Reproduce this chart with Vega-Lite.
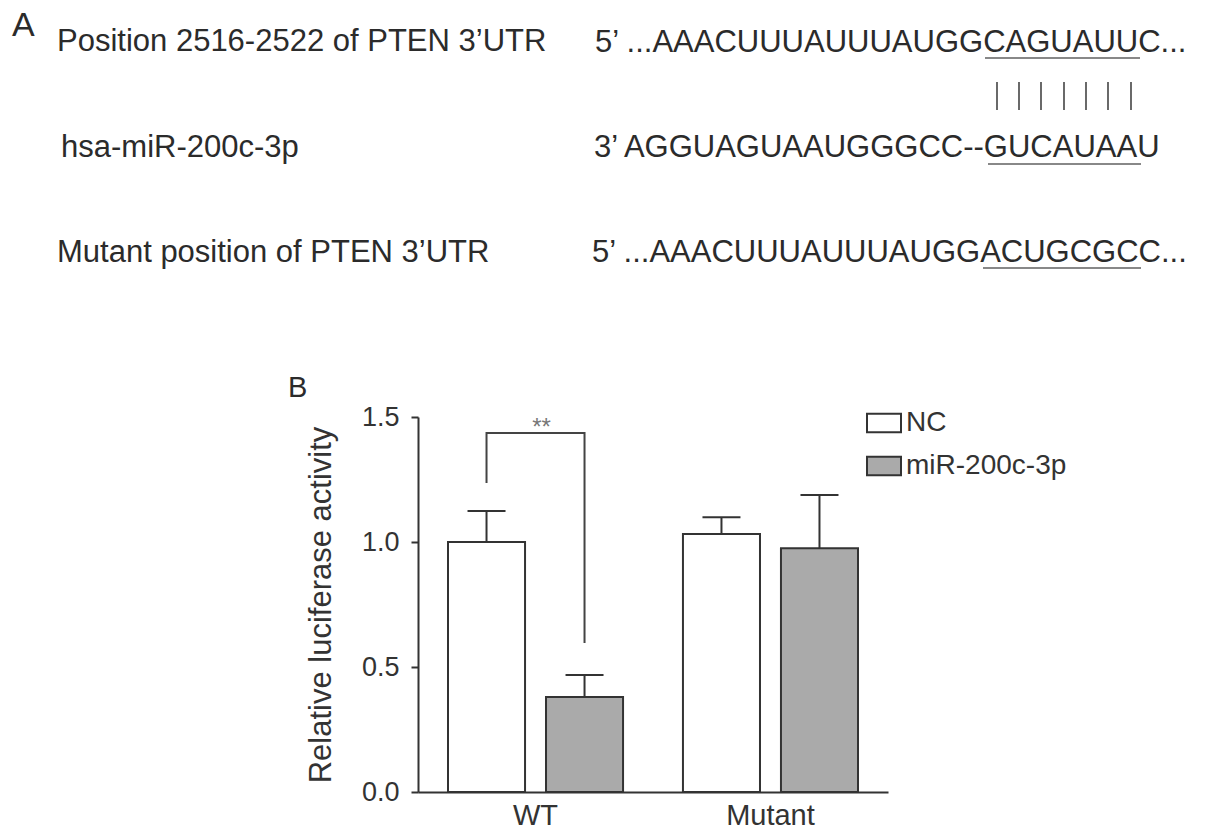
{
  "$schema": "https://vega.github.io/schema/vega-lite/v6.json",
  "autosize": {"type": "none"},
  "width": 470,
  "height": 375,
  "padding": {"left": 418, "top": 417, "right": 317, "bottom": 44},
  "background": "white",
  "config": {"view": {"stroke": null}, "font": "Liberation Sans"},
  "datasets": {
    "panelA": [
      {"t": "Position 2516-2522 of PTEN 3’UTR", "x": 57, "y": 51},
      {"t": "hsa-miR-200c-3p", "x": 61, "y": 157},
      {"t": "Mutant position of PTEN 3’UTR", "x": 57, "y": 262},
      {"t": "5’ ...AAACUUUAUUUAUGGCAGUAUUC...", "x": 595, "y": 52},
      {"t": "3’ AGGUAGUAAUGGGCC--GUCAUAAU", "x": 594, "y": 157},
      {"t": "5’ ...AAACUUUAUUUAUGGACUGCGCC...", "x": 592, "y": 262}
    ],
    "letters": [
      {"t": "A", "x": 12, "y": 36, "k": "A"},
      {"t": "B", "x": 288, "y": 397, "k": "B"}
    ],
    "underlines": [
      {"x": 985, "x2": 1140, "y": 58},
      {"x": 988, "x2": 1141, "y": 164},
      {"x": 983, "x2": 1141, "y": 268}
    ],
    "pairs": [
      {"x": 997, "y": 82, "y2": 110},
      {"x": 1019, "y": 82, "y2": 110},
      {"x": 1041, "y": 82, "y2": 110},
      {"x": 1064, "y": 82, "y2": 110},
      {"x": 1086, "y": 82, "y2": 110},
      {"x": 1108, "y": 82, "y2": 110},
      {"x": 1131, "y": 82, "y2": 110}
    ],
    "bars": [
      {"g": "WT", "s": "NC", "v": 1.0, "u": 1.124},
      {"g": "WT", "s": "miR-200c-3p", "v": 0.38, "u": 0.468},
      {"g": "Mutant", "s": "NC", "v": 1.032, "u": 1.099},
      {"g": "Mutant", "s": "miR-200c-3p", "v": 0.975, "u": 1.188}
    ],
    "bracket": [
      {"g": "WT", "s": "NC", "v": 1.236, "o": 1},
      {"g": "WT", "s": "NC", "v": 1.436, "o": 2},
      {"g": "WT", "s": "miR-200c-3p", "v": 1.436, "o": 3},
      {"g": "WT", "s": "miR-200c-3p", "v": 0.596, "o": 4}
    ],
    "sig": [{"g": "WT", "label": "**", "v": 1.43}]
  },
  "layer": [
    {
      "layer": [
        {
          "data": {"name": "panelA"},
          "mark": {"type": "text", "align": "left", "baseline": "alphabetic", "fontSize": 31, "color": "#2b2b2b"},
          "encoding": {
            "x": {"field": "x", "type": "quantitative", "scale": {"domain": [0, 1205], "range": [-418, 787], "nice": false, "zero": false}, "axis": null},
            "y": {"field": "y", "type": "quantitative", "scale": {"domain": [0, 836], "range": [-417, 419], "nice": false, "zero": false}, "axis": null},
            "text": {"field": "t"}
          }
        },
        {
          "data": {"name": "letters"},
          "transform": [{"filter": "datum.k === 'A'"}],
          "mark": {"type": "text", "align": "left", "baseline": "alphabetic", "fontSize": 34, "color": "#2b2b2b"},
          "encoding": {
            "x": {"field": "x", "type": "quantitative", "scale": {"domain": [0, 1205], "range": [-418, 787], "nice": false, "zero": false}, "axis": null},
            "y": {"field": "y", "type": "quantitative", "scale": {"domain": [0, 836], "range": [-417, 419], "nice": false, "zero": false}, "axis": null},
            "text": {"field": "t"}
          }
        },
        {
          "data": {"name": "letters"},
          "transform": [{"filter": "datum.k === 'B'"}],
          "mark": {"type": "text", "align": "left", "baseline": "alphabetic", "fontSize": 29, "color": "#2b2b2b"},
          "encoding": {
            "x": {"field": "x", "type": "quantitative", "scale": {"domain": [0, 1205], "range": [-418, 787], "nice": false, "zero": false}, "axis": null},
            "y": {"field": "y", "type": "quantitative", "scale": {"domain": [0, 836], "range": [-417, 419], "nice": false, "zero": false}, "axis": null},
            "text": {"field": "t"}
          }
        },
        {
          "data": {"name": "underlines"},
          "mark": {"type": "rule", "color": "#888888", "strokeWidth": 2},
          "encoding": {
            "x": {"field": "x", "type": "quantitative", "scale": {"domain": [0, 1205], "range": [-418, 787], "nice": false, "zero": false}, "axis": null},
            "x2": {"field": "x2"},
            "y": {"field": "y", "type": "quantitative", "scale": {"domain": [0, 836], "range": [-417, 419], "nice": false, "zero": false}, "axis": null}
          }
        },
        {
          "data": {"name": "pairs"},
          "mark": {"type": "rule", "color": "#444444", "strokeWidth": 1.6},
          "encoding": {
            "x": {"field": "x", "type": "quantitative", "scale": {"domain": [0, 1205], "range": [-418, 787], "nice": false, "zero": false}, "axis": null},
            "y": {"field": "y", "type": "quantitative", "scale": {"domain": [0, 836], "range": [-417, 419], "nice": false, "zero": false}, "axis": null},
            "y2": {"field": "y2"}
          }
        }
      ]
    },
    {
      "layer": [
        {
          "data": {"name": "bars"},
          "mark": {"type": "bar", "stroke": "#333333", "strokeWidth": 2},
          "encoding": {
            "x": {
              "field": "g", "type": "nominal", "sort": ["WT", "Mutant"], "title": null,
              "scale": {"paddingInner": 0.255, "paddingOuter": 0.1277},
              "axis": {"ticks": false, "domainColor": "#333333", "domainWidth": 2, "labelFontSize": 29, "labelColor": "#333333", "labelPadding": 9, "labelAngle": 0}
            },
            "xOffset": {"field": "s", "type": "nominal", "sort": ["NC", "miR-200c-3p"], "scale": {"paddingInner": 0.214, "paddingOuter": 0}},
            "y": {
              "field": "v", "type": "quantitative", "title": "Relative luciferase activity",
              "scale": {"domain": [0, 1.5], "nice": false},
              "axis": {"values": [0, 0.5, 1, 1.5], "format": ".1f", "grid": false, "domainColor": "#333333", "domainWidth": 2, "tickColor": "#333333", "tickWidth": 2, "tickSize": 7, "labelFontSize": 27, "labelColor": "#333333", "labelPadding": 12, "titleFontSize": 31, "titleFontWeight": "normal", "titleColor": "#333333", "titlePadding": 24}
            },
            "fill": {
              "field": "s", "type": "nominal",
              "scale": {"domain": ["NC", "miR-200c-3p"], "range": ["#ffffff", "#aaaaaa"]},
              "legend": {"orient": "none", "legendX": 448, "legendY": -12, "title": null, "symbolType": "M-1,-0.55H1V0.55H-1Z", "symbolSize": 1156, "symbolStrokeColor": "#333333", "symbolStrokeWidth": 2, "symbolOpacity": 1, "labelFontSize": 28, "labelColor": "#333333", "labelOffset": 4, "labelLimit": 400, "rowPadding": 11}
            }
          }
        },
        {
          "data": {"name": "bars"},
          "mark": {"type": "rule", "color": "#333333", "strokeWidth": 2},
          "encoding": {
            "x": {"field": "g", "type": "nominal", "sort": ["WT", "Mutant"]},
            "xOffset": {"field": "s", "type": "nominal", "sort": ["NC", "miR-200c-3p"]},
            "y": {"field": "v", "type": "quantitative"},
            "y2": {"field": "u"}
          }
        },
        {
          "data": {"name": "bars"},
          "mark": {"type": "tick", "color": "#333333", "size": 38, "thickness": 2, "opacity": 1},
          "encoding": {
            "x": {"field": "g", "type": "nominal", "sort": ["WT", "Mutant"]},
            "xOffset": {"field": "s", "type": "nominal", "sort": ["NC", "miR-200c-3p"]},
            "y": {"field": "u", "type": "quantitative"}
          }
        },
        {
          "data": {"name": "bracket"},
          "mark": {"type": "line", "color": "#444444", "strokeWidth": 2},
          "encoding": {
            "x": {"field": "g", "type": "nominal", "sort": ["WT", "Mutant"]},
            "xOffset": {"field": "s", "type": "nominal", "sort": ["NC", "miR-200c-3p"]},
            "y": {"field": "v", "type": "quantitative"},
            "order": {"field": "o", "type": "quantitative"}
          }
        },
        {
          "data": {"name": "sig"},
          "mark": {"type": "text", "fontSize": 24, "color": "#777777", "baseline": "alphabetic", "dx": 6},
          "encoding": {
            "x": {"field": "g", "type": "nominal", "sort": ["WT", "Mutant"]},
            "y": {"field": "v", "type": "quantitative"},
            "text": {"field": "label"}
          }
        }
      ]
    }
  ],
  "resolve": {"scale": {"x": "independent", "y": "independent"}}
}
